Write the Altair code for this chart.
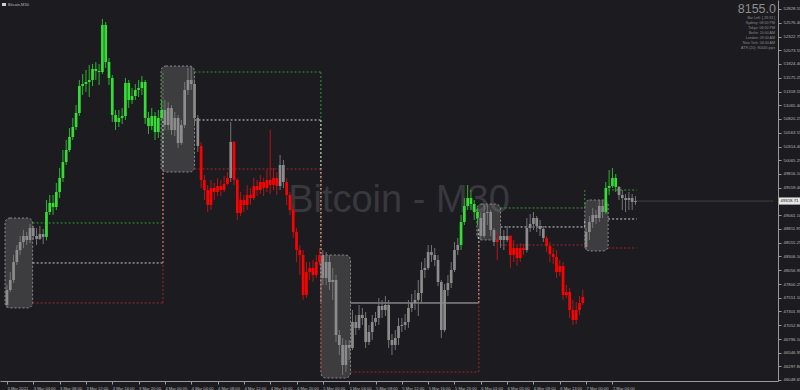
import json
import altair as alt
import pandas as pd

# ---------------- data ----------------
close = [47693, 47876, 48205, 48424, 48570, 48680, 48607, 48827, 48680, 48626, 48717, 48662,
         49118, 49283, 49210, 49484, 49740, 50032, 50252, 50489, 50672, 50928, 51421, 51458,
         51494, 51531, 51733, 51696, 51677, 52537, 51860, 51568, 50892, 50763, 50837, 50873,
         51476, 51166, 51238, 51348, 51385, 51494, 50837, 50690, 50873, 50580, 50837, 50983,
         50709, 51020, 50617, 50837, 50380, 50709, 51348, 51531, 51458, 50837, 50325, 49704,
         49521, 49247, 49558, 49484, 49594, 49521, 49631, 49740, 50398, 49704, 49100, 49338,
         49247, 49429, 49375, 49594, 49521, 49667, 49558, 49704, 49612, 49740, 49594, 49978,
         49667, 49429, 49155, 48753, 48424, 48333, 47602, 48022, 48096, 47967, 48205, 48333,
         47913, 48205, 47839, 47876, 46871, 46688, 46322, 46688, 46634, 47108, 46999, 47236,
         47182, 46743, 46925, 47108, 47182, 47401, 47328, 47419, 46780, 46688, 46816, 47035,
         47054, 47108, 47365, 47456, 47511, 47638, 48059, 48096, 48387, 48333, 48242, 47839,
         46962, 47693, 47821, 48059, 48424, 48516, 48936, 49228, 49375, 49265, 49118, 49010,
         48680, 49100, 49118, 48790, 48570, 48607, 48680, 48607, 48680, 48333, 48461, 48278,
         48461, 48424, 48827, 48900, 49009, 48863, 48809, 48644, 48497, 48351, 48296, 48022,
         48132, 47602, 47656, 47328, 47145, 47328, 47456, 47565, 48753, 48936, 49064, 49009,
         49228, 49118, 49558, 49594, 49740, 49576, 49429, 49375, 49338, 49375, 49301, 49319]

high = [47785, 48022, 48333, 48516, 48680, 48790, 48753, 48900, 48863, 48827, 48863, 48809,
        49338, 49429, 49429, 49649, 49923, 50252, 50435, 50654, 50837, 51075, 51531, 51641,
        51714, 51806, 51824, 51860, 51824, 52646, 52591, 51933, 51623, 50983, 50983, 51020,
        51568, 51531, 51385, 51458, 51531, 51604, 51531, 50946, 51020, 50946, 50983, 51166,
        51166, 51129, 51075, 50946, 50892, 50800, 51494, 51751, 51787, 51531, 50892, 50398,
        49795, 49612, 49704, 49649, 49740, 49704, 49776, 49849, 50763, 50420, 49740, 49484,
        49429, 49612, 49558, 49740, 49704, 49795, 49740, 49886, 50617, 49923, 49849, 50160,
        50069, 49740, 49484, 49247, 48827, 48516, 48424, 48205, 48205, 48242, 48333, 48461,
        48424, 48387, 48333, 48096, 47967, 46962, 46816, 46780, 46780, 47328, 47236, 47419,
        47365, 47291, 47054, 47236, 47291, 47547, 47511, 47583, 47511, 46889, 46962, 47182,
        47182, 47255, 47511, 47620, 47693, 47876, 48205, 48278, 48516, 48516, 48461, 48333,
        47876, 47803, 47967, 48205, 48570, 48644, 49064, 49375, 49612, 49521, 49338, 49192,
        49118, 49247, 49247, 49155, 48827, 48753, 48827, 48790, 48863, 48698, 48607, 48516,
        48552, 48534, 49009, 49082, 49118, 49045, 48973, 48863, 48680, 48570, 48461, 48424,
        48242, 48205, 47785, 47730, 47511, 47474, 47583, 47693, 48827, 49045, 49192, 49155,
        49338, 49338, 49667, 49886, 49923, 49813, 49594, 49521, 49448, 49484, 49448, 49411]

low = [47365, 47656, 47821, 48151, 48333, 48461, 48516, 48552, 48607, 48516, 48607, 48534,
       48600, 49064, 49064, 49155, 49375, 49667, 49978, 50215, 50435, 50617, 50873, 51257,
       51311, 51220, 51421, 51531, 51440, 51641, 51751, 51440, 50763, 50617, 50672, 50727,
       50800, 51020, 51093, 51166, 51220, 51257, 50727, 50544, 50617, 50435, 50471, 50800,
       50617, 50617, 50526, 50507, 50289, 50344, 50654, 51257, 51348, 50709, 50215, 49558,
       49338, 49118, 49155, 49338, 49411, 49411, 49484, 49612, 49667, 49612, 48973, 49045,
       49118, 49155, 49247, 49338, 49411, 49448, 49411, 49484, 49448, 49521, 49429, 49521,
       49558, 49247, 49064, 48644, 48205, 47967, 47511, 47547, 47876, 47839, 47913, 48151,
       47785, 47785, 47693, 47511, 46743, 46505, 46140, 46194, 46414, 46597, 46871, 46960,
       47054, 46634, 46688, 46780, 47035, 47054, 47182, 47218, 46634, 46505, 46597, 46688,
       46925, 46962, 46999, 47291, 47328, 47218, 47474, 47913, 48059, 48205, 48132, 47766,
       46816, 46925, 47583, 47730, 48022, 48333, 48424, 48881, 49155, 49155, 48973, 48881,
       48607, 48644, 48881, 48680, 48497, 48242, 48461, 48424, 48570, 48096, 48205, 48132,
       48205, 48333, 48380, 48753, 48790, 48753, 48680, 48570, 48387, 48205, 48169, 47913,
       47949, 47511, 47547, 47182, 47054, 47072, 47236, 47419, 48424, 48607, 48827, 48900,
       48936, 49009, 49082, 49429, 49558, 49484, 49338, 49155, 49118, 49155, 49155, 49247]

first_open = 47420
gap_bar = 176          # weekend gap: this bar opens away from the prior close
gap_open = 48479

# indicator state per run of bars: N = neutral (grey), G = bull (green), R = bear (red)
state_runs = [("N", 12), ("G", 36), ("N", 11), ("R", 9), ("N", 1), ("R", 14), ("N", 2),
              ("R", 11), ("N", 42), ("G", 6), ("N", 5), ("R", 1), ("N", 3), ("R", 5),
              ("N", 6), ("R", 12), ("N", 6), ("G", 4), ("N", 6)]

# consolidation boxes (bar index range, price range)
box_x1 = [-0.6, 46.8, 95.4, 142.8, 175.6]
box_x2 = [7.8, 57.0, 104.4, 150.0, 182.7]
box_top = [49009, 51787, 48333, 49265, 49338]
box_bot = [47365, 49849, 46085, 48607, 48406]

# breakout levels drawn after each box
seg_start = [7.8, 57.0, 104.4, 150.0, 182.7]
seg_end = [47.4, 95.4, 143.4, 175.6, 191.4]
lvl_upper = [48918, 51677, None, 49192, 49521]
lvl_mid = [48187, 50800, 47456, 48845, 48991]
lvl_lower = [47456, 49905, 46194, 48516, 48461]
mid_style = ["dot", "dot", "solid", "dot", "dot"]
# vertical joins between successive levels
join_x = [47.4, 47.4, 47.4, 95.4, 95.4, 95.4, 143.4, 143.4, 175.6, 175.6, 175.6]
join_from = [48918, 48187, 47456, 51677, 50800, 49905, 47456, 46194, 49192, 48845, 48516]
join_to = [51677, 50800, 49905, 48333, 47456, 46194, 48845, 48516, 49521, 48991, 48461]
join_lvl = ["upper", "mid", "lower", "upper", "mid", "lower", "mid", "lower", "upper", "mid", "lower"]

# price-axis labels (the one under the current-price tag is hidden by it)
y_ticks = [46048.65, 46297.80, 46546.95, 46796.10, 47052.80, 47301.95, 47551.10, 47800.25,
           48056.95, 48306.10, 48555.25, 48811.95, 49061.10, 49559.40, 49816.10,
           50065.25, 50314.40, 50563.55, 50820.25, 51065.40, 51318.55, 51575.25, 51824.40,
           52073.55, 52322.75, 52576.40, 52828.55]
x_tick_bars = list(range(0, 192, 8))
x_labels = ["3 Mar 2021", "3 Mar 04:00", "3 Mar 08:00", "3 Mar 12:00", "3 Mar 16:00",
            "3 Mar 20:00", "4 Mar 00:00", "4 Mar 04:00", "4 Mar 08:00", "4 Mar 12:00",
            "4 Mar 16:00", "4 Mar 20:00", "5 Mar 00:00", "5 Mar 04:00", "5 Mar 08:00",
            "5 Mar 12:00", "5 Mar 16:00", "5 Mar 20:00", "6 Mar 01:00", "6 Mar 05:00",
            "6 Mar 09:00", "6 Mar 13:00", "7 Mar 00:00", "7 Mar 04:00"]

last_price_text = "49318.71"
big_number = "8155.0"
info_lines = ["Bar Left: [ 28:33 ]", "Sydney: 08:00 PM", "Tokyo: 06:00 PM", "Berlin: 10:00 AM",
              "London: 09:00 AM", "New York: 04:00 AM", "ATR (20): 80440 pips"]

# ---------------- frames ----------------
states = []
for s, n in state_runs:
    states += [s] * n
opens = [first_open] + close[:-1]
opens[gap_bar] = gap_open

body_col = {"N": "#8c8c8c", "G": "#34de34", "R": "#ff0000"}
wick_col = {"N": "#747474", "G": "#2cb42c", "R": "#b41414"}
lvl_col = {"upper": "#2f9a2f", "mid": "#cfcfcf", "lower": "#a82424"}

candles = pd.DataFrame({"i": list(range(len(close))), "o": opens, "c": close,
                        "h": high, "l": low, "s": states})
candles["bc"] = candles["s"].map(body_col)
candles["wc"] = candles["s"].map(wick_col)

boxes = pd.DataFrame({"x1": box_x1, "x2": box_x2, "y1": box_top, "y2": box_bot})

rows = []
for k in range(len(seg_start)):
    for name, arr in (("upper", lvl_upper), ("mid", lvl_mid), ("lower", lvl_lower)):
        if arr[k] is None:
            continue
        rows.append({"x1": seg_start[k], "x2": seg_end[k], "y": arr[k],
                     "col": lvl_col[name],
                     "dash": mid_style[k] if name == "mid" else "dot"})
hlines = pd.DataFrame(rows)
vlines = pd.DataFrame({"x": join_x, "y1": join_from, "y2": join_to,
                       "col": [lvl_col[v] for v in join_lvl]})

W, H = 778, 381
BG = "#1c1c20"
FONT = "Liberation Sans"
x_scale = alt.Scale(domain=[-0.6, 232.8], nice=False, zero=False)
y_scale = alt.Scale(domain=[46030, 52993], nice=False, zero=False)

x_axis = alt.Axis(values=x_tick_bars, title=None, orient="bottom", grid=False,
                  labelExpr=json.dumps(x_labels) + "[round(datum.value / 8)]",
                  labelAlign="left", labelBaseline="top", labelPadding=2, labelFlush=False,
                  labelOverlap=False, tickSize=3, labelFontSize=4.1, labelFont=FONT,
                  labelColor="#b4b4b4", domainColor="#9a9a9a", tickColor="#9a9a9a")
y_axis = alt.Axis(values=y_ticks, format=".2f", title=None, orient="right", grid=False,
                  labelAlign="left", labelBaseline="middle", labelPadding=2, tickSize=3,
                  labelFontSize=4.3, labelFont=FONT, labelColor="#b4b4b4", labelOverlap=False,
                  labelFlush=False, domainColor="#9a9a9a", tickColor="#9a9a9a")

base = alt.Chart(candles)

watermark = alt.Chart(pd.DataFrame({"t": ["Bitcoin - M30"]})).mark_text(
    font=FONT, fontSize=38, color="#38383e", align="center", baseline="middle"
).encode(text="t:N", x=alt.value(399), y=alt.value(201))

box_layer = alt.Chart(boxes).mark_rect(
    cornerRadius=5, fill="#8a8a8a", fillOpacity=0.3, stroke="#a8a8a8",
    strokeOpacity=0.75, strokeWidth=1, strokeDash=[2, 2]
).encode(x=alt.X("x1:Q", scale=x_scale, axis=x_axis), x2="x2:Q",
         y=alt.Y("y1:Q", scale=y_scale, axis=y_axis), y2="y2:Q")

h_layer = alt.Chart(hlines).mark_rule(strokeWidth=1).encode(
    x=alt.X("x1:Q", scale=x_scale, axis=x_axis), x2="x2:Q",
    y=alt.Y("y:Q", scale=y_scale, axis=y_axis),
    color=alt.Color("col:N", scale=None),
    strokeDash=alt.StrokeDash("dash:N", scale=alt.Scale(domain=["dot", "solid"],
                                                        range=[[2, 2], [1, 0]]), legend=None))

v_layer = alt.Chart(vlines).mark_rule(strokeWidth=1, strokeDash=[2, 2]).encode(
    x=alt.X("x:Q", scale=x_scale, axis=x_axis),
    y=alt.Y("y1:Q", scale=y_scale, axis=y_axis), y2="y2:Q",
    color=alt.Color("col:N", scale=None))

wicks = base.mark_rule(strokeWidth=1).encode(
    x=alt.X("i:Q", scale=x_scale, axis=x_axis),
    y=alt.Y("l:Q", scale=y_scale, axis=y_axis), y2="h:Q",
    color=alt.Color("wc:N", scale=None))

bodies = base.mark_bar(size=2.7).encode(
    x=alt.X("i:Q", scale=x_scale, axis=x_axis),
    y=alt.Y("o:Q", scale=y_scale, axis=y_axis), y2="c:Q",
    color=alt.Color("bc:N", scale=None))

last = pd.DataFrame({"i": [len(close) - 1], "end": [232.8], "p": [close[-1]],
                     "t": [last_price_text]})
price_line = alt.Chart(last).mark_rule(color="#3c3c42", strokeWidth=1).encode(
    x=alt.X("i:Q", scale=x_scale, axis=x_axis), x2="end:Q",
    y=alt.Y("p:Q", scale=y_scale, axis=y_axis))
price_box = alt.Chart(last).mark_point(
    shape="M-1,-0.34L1,-0.34L1,0.34L-1,0.34Z", size=441, filled=True, fill="#e6e6e6",
    opacity=1, strokeWidth=0
).encode(x=alt.value(789.5), y=alt.Y("p:Q", scale=y_scale, axis=y_axis))
price_txt = alt.Chart(last).mark_text(
    font=FONT, fontSize=4.3, color="#111111", align="center", baseline="middle"
).encode(text="t:N", x=alt.value(789.5), y=alt.Y("p:Q", scale=y_scale, axis=y_axis))

title_icon = alt.Chart(pd.DataFrame({"a": [1]})).mark_rect(
    fill="#d0d0d0").encode(x=alt.value(2), x2=alt.value(6), y=alt.value(3), y2=alt.value(6))
title_txt = alt.Chart(pd.DataFrame({"t": ["Bitcoin,M30"]})).mark_text(
    font=FONT, fontSize=4, color="#b8b8b8", align="left", baseline="middle"
).encode(text="t:N", x=alt.value(8), y=alt.value(4.5))

big_txt = alt.Chart(pd.DataFrame({"t": [big_number]})).mark_text(
    font=FONT, fontSize=12.5, color="#8e8e8e", align="right", baseline="alphabetic"
).encode(text="t:N", x=alt.value(776), y=alt.value(13))
info_df = pd.DataFrame({"t": info_lines,
                        "py": [17.6 + 5.0 * k for k in range(len(info_lines))]})
info_txt = alt.Chart(info_df).mark_text(
    font=FONT, fontSize=3.6, color="#8a8a8a", align="right", baseline="middle"
).encode(text="t:N", x=alt.value(775), y=alt.Y("py:Q", scale=None, axis=None))

chart = alt.layer(
    watermark, box_layer, h_layer, v_layer, price_line, wicks, bodies,
    price_box, price_txt, title_icon, title_txt, big_txt, info_txt
).properties(
    width=W, height=H, background=BG,
    padding={"left": 0, "top": 0, "right": 22, "bottom": 9},
    autosize=alt.AutoSizeParams(type="none")
).configure_view(stroke=None, fill=BG).configure_axis(grid=False)

chart.save("out.html", embed_options={"renderer": "svg", "actions": False})
